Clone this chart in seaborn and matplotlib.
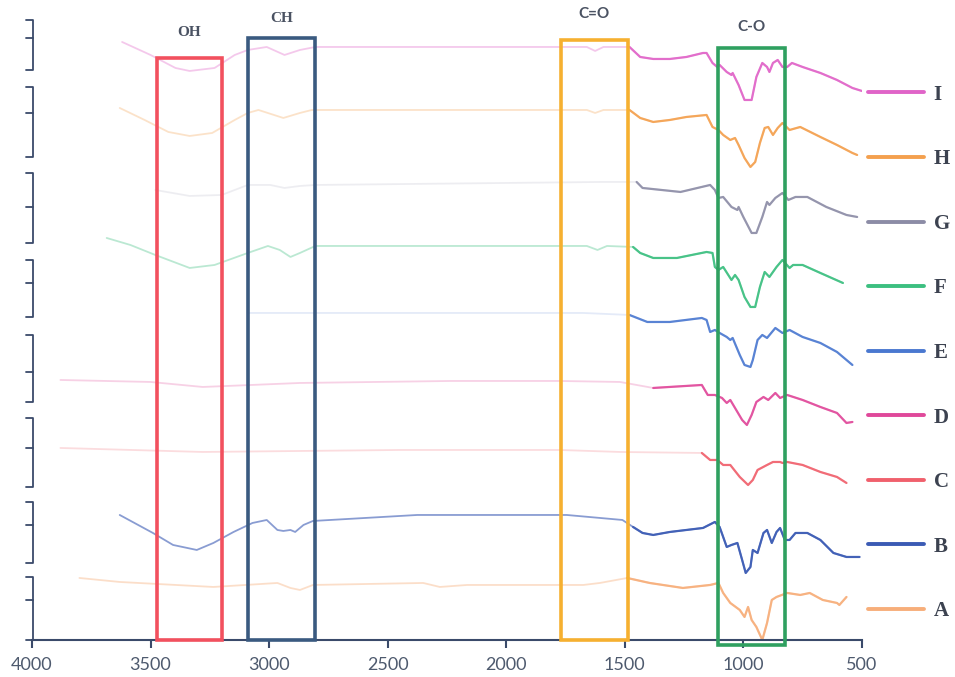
import numpy as np
import pandas as pd
import matplotlib
matplotlib.use("Agg")
import matplotlib.pyplot as plt
from matplotlib.patches import Rectangle
from matplotlib.lines import Line2D
import seaborn as sns

# DATA (wavenumber cm-1 / stacked transmittance, arbitrary units)
SAMPLES=["A","B","C","D","E","F","G","H","I"]

WN_A=[3800,3630,3235,2965,2910,2870,2815,2350,2280,2165,1885,1675,1605,1490,1395,1255,1140,1105,1085,1055,1015,995,980,965,945,920,900,880,860,815,760,720,665,605,595,565]
T_A=[12.4,11.6,10.6,11.4,10.4,10.0,11.0,11.4,10.6,11.0,11.0,11.0,11.4,12.4,11.4,10.4,11.0,11.4,9.4,7.4,6.0,4.6,6.6,4.0,2.6,0.0,3.4,8.0,8.6,9.4,9.0,9.4,8.0,7.4,7.0,8.6]

WN_B=[3630,3490,3405,3305,3235,3150,3070,3010,2965,2940,2910,2890,2855,2815,2375,1745,1510,1465,1425,1380,1310,1170,1120,1100,1070,1050,1025,1005,990,970,960,940,915,900,880,860,845,825,805,780,730,675,620,565,510]
T_B=[25.0,21.4,19.0,18.0,19.4,21.6,23.4,24.0,22.0,21.8,22.0,21.6,23.0,23.8,25.0,25.0,24.0,22.6,21.4,21.0,21.6,22.4,23.6,22.6,18.6,19.0,19.4,16.0,13.4,14.6,18.0,17.4,21.4,22.0,19.4,21.6,22.4,20.0,20.0,21.4,21.4,20.0,17.4,16.6,16.6]

WN_C=[3880,3280,2450,1775,1520,1175,1140,1110,1085,1055,1015,980,960,940,900,875,845,835,815,750,675,605,565]
T_C=[38.4,37.6,38.0,38.0,37.6,37.4,36.0,36.0,35.0,35.0,32.6,31.0,32.0,34.0,35.0,35.6,35.6,35.4,35.6,35.0,33.6,32.6,31.4]

WN_D=[3880,3500,3280,2870,2235,1775,1520,1380,1175,1150,1120,1090,1070,1055,1035,1005,985,965,945,915,895,865,845,815,750,675,605,565,540]
T_D=[52.0,51.6,50.6,51.4,51.8,51.8,51.6,50.4,51.0,49.0,49.0,48.4,47.4,48.0,46.4,44.0,43.0,45.0,47.6,48.6,48.0,49.4,48.4,49.0,48.0,46.6,45.4,43.4,43.6]

WN_E=[3090,2940,2805,1675,1480,1405,1310,1175,1155,1140,1120,1100,1070,1055,1045,1015,995,970,960,940,920,900,865,835,805,750,675,605,565,540]
T_E=[65.4,65.4,65.4,65.4,65.0,63.6,63.6,64.4,64.0,61.6,62.0,61.4,60.6,60.0,60.4,57.0,55.0,54.6,56.0,60.0,61.0,60.4,62.4,61.4,62.0,60.6,59.4,57.6,56.0,55.0]

WN_F=[3685,3585,3480,3335,3230,3090,3005,2955,2910,2870,2805,2745,1660,1615,1575,1465,1435,1380,1280,1155,1130,1120,1105,1085,1050,1035,1020,995,970,950,930,910,890,860,835,805,790,750,675,580]
T_F=[80.4,79.0,77.0,74.4,75.0,77.4,78.8,78.0,76.6,77.4,78.8,78.8,78.8,78.0,78.8,78.6,77.4,76.4,76.4,77.6,77.4,74.6,74.0,74.6,72.0,73.0,72.0,68.6,66.6,66.6,70.6,73.6,72.6,74.6,76.0,74.4,75.0,75.0,73.4,71.4]

WN_G=[3480,3335,3200,3090,2995,2935,2870,2805,1605,1450,1425,1265,1140,1120,1105,1085,1050,1025,1020,1000,965,945,920,900,890,865,835,810,780,730,650,565,520]
T_G=[90.0,88.8,89.0,91.0,91.0,90.4,90.8,91.0,91.6,91.6,90.4,89.6,91.0,90.0,88.4,88.6,86.6,86.0,86.6,84.6,81.4,81.4,84.6,87.6,87.0,88.4,89.4,88.0,88.6,88.6,86.6,85.0,84.6]

WN_H=[3630,3525,3425,3335,3240,3145,3090,3045,2940,2870,2820,1660,1625,1590,1480,1435,1380,1310,1240,1155,1130,1105,1085,1055,1035,1020,995,970,950,930,910,895,875,855,835,805,760,675,605,540,520]
T_H=[106.4,104.0,101.6,100.8,101.4,104.0,105.4,106.0,104.4,105.4,106.0,106.0,105.4,106.0,106.0,104.4,103.6,104.0,104.6,105.0,102.6,102.0,101.0,100.0,100.4,99.0,96.4,94.6,95.6,99.4,102.4,102.6,101.0,102.4,103.4,102.0,102.6,100.6,99.0,97.4,97.0]

WN_I=[3620,3500,3395,3335,3230,3145,3090,3010,2935,2870,2805,1660,1625,1590,1480,1435,1380,1310,1240,1170,1155,1130,1110,1100,1070,1050,1045,1020,995,965,945,920,900,890,875,855,835,815,795,750,675,605,540,500]
T_I=[119.6,117.0,114.4,113.8,114.4,117.0,118.0,118.6,117.0,118.0,118.6,118.6,117.8,118.6,118.6,116.6,116.2,116.2,116.6,117.4,117.4,115.4,114.6,115.0,113.6,113.0,113.4,111.0,108.0,108.0,112.6,115.4,114.6,113.6,115.4,116.0,114.6,114.6,115.4,114.6,113.4,112.0,110.4,109.8]

# BAND REGIONS
BAND_NAMES=["OH","CH","C=O","C-O"]
BAND_HI=[3473,3089,1769,1107]
BAND_LO=[3199,2807,1487,825]
BAND_TOP=[116.4,120.4,120.0,118.4]
BAND_LABEL_Y=[121.4,124.2,125.2,122.6]

COLORS={"A":"#f7ae7a","B":"#3b5bb4","C":"#f0606c","D":"#e0489a","E":"#4a78d0",
        "F":"#3cbf80","G":"#8c8ca6","H":"#f4a04e","I":"#e064c8"}
BASE_ALPHA={"A":0.4,"B":0.6,"C":0.22,"D":0.25,"E":0.15,"F":0.35,"G":0.15,"H":0.3,"I":0.35}
BOX_COLORS=["#f2505e","#3a5a80","#f6b030","#2fa060"]
BOX_FONT=[["Liberation Serif","DejaVu Serif"],["Liberation Serif","DejaVu Serif"],["Lato","DejaVu Sans"],["Lato","DejaVu Sans"]]
AXIS_COLOR="#3a4a6a"

series={"A":(WN_A,T_A),"B":(WN_B,T_B),"C":(WN_C,T_C),"D":(WN_D,T_D),"E":(WN_E,T_E),
        "F":(WN_F,T_F),"G":(WN_G,T_G),"H":(WN_H,T_H),"I":(WN_I,T_I)}
rows=[]
for s in SAMPLES:
    for w,t in zip(*series[s]):
        rows.append((s,w,t))
df=pd.DataFrame(rows,columns=["sample","wavenumber","transmittance"])

sns.set_theme(style="white")
plt.rcParams["font.family"]=["Lato","DejaVu Sans"]

fig=plt.figure(figsize=(9.55,6.77),dpi=100)
ax=fig.add_axes([0.0335,0.0547,0.869,0.9158])

# SPECTRA (faint full trace + strong fingerprint region)
for s in SAMPLES:
    d=df[df["sample"]==s]
    sns.lineplot(data=d,x="wavenumber",y="transmittance",color=COLORS[s],alpha=BASE_ALPHA[s],
                 lw=1.3,estimator=None,sort=False,ax=ax,legend=False)
    d2=d[d["wavenumber"]<=1490]
    sns.lineplot(data=d2,x="wavenumber",y="transmittance",color=COLORS[s],alpha=0.9,
                 lw=1.6,estimator=None,sort=False,ax=ax,legend=False)

# BAND BOXES
for name,hi,lo,top,ly,c,fam in zip(BAND_NAMES,BAND_HI,BAND_LO,BAND_TOP,BAND_LABEL_Y,BOX_COLORS,BOX_FONT):
    bottom=-1 if name=="C-O" else 0
    ax.add_patch(Rectangle((lo,bottom),hi-lo,top-bottom,fill=False,edgecolor=c,lw=2.6,clip_on=False,zorder=5))
    ax.text((hi+lo)/2,ly,name,ha="center",va="center",fontsize=11,fontweight="bold",
            color="#4a5262",family=fam,clip_on=False)

ax.set_xlim(4000,500)
ax.set_ylim(0,124)
ax.set_xticks(np.arange(4000,499,-500))
ax.set_yticks([])
ax.set_xlabel("")
ax.set_ylabel("")
for sp in ["top","right","left"]:
    ax.spines[sp].set_visible(False)
ax.spines["bottom"].set_color(AXIS_COLOR)
ax.spines["bottom"].set_linewidth(1.5)
ax.tick_params(axis="x",direction="out",length=6,width=1.5,color=AXIS_COLOR,
               labelcolor="#4e5a6e",labelsize=13,pad=6,bottom=True)

# BRACKET SEGMENTS ON Y AXIS
BRACKETS=[(124,114,120.4),(110.6,96.6,105.4),(93.4,79.4,86.6),(76,64.6,71.4),
          (61,47.6,53.6),(44.4,30.6,38.4),(27.6,15.4,23),(12.6,0,8)]
tr=ax.get_yaxis_transform()
for top,bot,mid in BRACKETS:
    ax.plot([-0.007,0.001,0.001,-0.007],[top,top,bot,bot],color=AXIS_COLOR,lw=1.3,transform=tr,clip_on=False)
    ax.plot([-0.007,0.001],[mid,mid],color=AXIS_COLOR,lw=1.3,transform=tr,clip_on=False)

# LEGEND
handles=[Line2D([0],[0],color=COLORS[s],lw=2.8) for s in SAMPLES[::-1]]
leg=ax.legend(handles,SAMPLES[::-1],loc="upper left",bbox_to_anchor=(0.909,0.875),
              bbox_transform=fig.transFigure,frameon=False,handlelength=2.7,handletextpad=0.45,
              labelspacing=2.14,borderpad=0,borderaxespad=0,
              prop={"family":["Liberation Serif","DejaVu Serif"],"weight":"bold","size":15})
for t in leg.get_texts():
    t.set_color("#3c4250")

fig.savefig("out.png",dpi=100)
